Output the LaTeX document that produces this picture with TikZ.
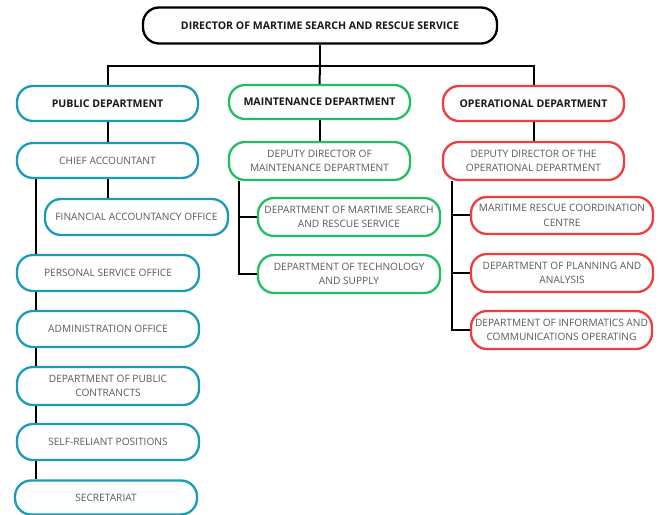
\documentclass[tikz,border=0pt]{standalone}
\usepackage{fontspec}
\setmainfont{Open Sans}
\usetikzlibrary{positioning}
\definecolor{pubc}{HTML}{1B9BB8}
\definecolor{mntc}{HTML}{1FBF62}
\definecolor{oprc}{HTML}{F23B3B}
\definecolor{txtc}{HTML}{5A5A5A}
\tikzset{
  box/.style={rectangle, rounded corners=16bp, line width=2.3bp, fill=white,
    minimum width=181bp, minimum height=36bp, align=center, inner sep=0.5bp,
    font=\fontsize{10.2}{14.5}\selectfont, text=txtc},
  head/.style={box, font=\fontsize{10.6}{12}\selectfont\bfseries, text=black!90},
  conn/.style={line width=2bp, black},
}
\begin{document}
\begin{tikzpicture}[x=1bp, y=-1bp]
\useasboundingbox (0,0) rectangle (659,515);
% top
\node[head, draw=black, minimum width=354bp] (top) at (320,25.5) {DIRECTOR OF MARTIME SEARCH AND RESCUE SERVICE};
% level 1
\node[head, draw=pubc, minimum height=35bp] (pub) at (107.5,103.5) {PUBLIC DEPARTMENT};
\node[head, draw=mntc, minimum height=34bp] (mnt) at (319.5,102) {MAINTENANCE DEPARTMENT};
\node[head, draw=oprc, minimum height=35bp] (opr) at (533.5,103.5) {OPERATIONAL DEPARTMENT};
% public
\node[box, draw=pubc, minimum height=35bp] (chief) at (107.5,160.5) {CHIEF ACCOUNTANT};
\node[box, draw=pubc, minimum width=183bp] (fao) at (136.5,217) {FINANCIAL ACCOUNTANCY OFFICE};
\node[box, draw=pubc, minimum width=182bp] (pso) at (108,273) {PERSONAL SERVICE OFFICE};
\node[box, draw=pubc, minimum width=182bp] (adm) at (108,329) {ADMINISTRATION OFFICE};
\node[box, draw=pubc, minimum width=182bp, minimum height=38bp] (dpc) at (108,386) {DEPARTMENT OF PUBLIC\\CONTRANCTS};
\node[box, draw=pubc, minimum width=182bp] (srp) at (108,442) {SELF-RELIANT POSITIONS};
\node[box, draw=pubc, minimum width=182bp, minimum height=34bp] (sec) at (106,497.5) {SECRETARIAT};
% maintenance
\node[box, draw=mntc, minimum height=38bp] (ddm) at (319.5,161) {DEPUTY DIRECTOR OF\\MAINTENANCE DEPARTMENT};
\node[box, draw=mntc, minimum width=182bp, minimum height=38bp] (dms) at (349,217) {DEPARTMENT OF MARTIME SEARCH\\AND RESCUE SERVICE};
\node[box, draw=mntc, minimum width=182bp, minimum height=38bp] (dts) at (349,274) {DEPARTMENT OF TECHNOLOGY\\AND SUPPLY};
% operational
\node[box, draw=oprc, minimum height=38bp] (ddo) at (533.5,161) {DEPUTY DIRECTOR OF THE\\OPERATIONAL DEPARTMENT};
\node[box, draw=oprc, minimum width=182bp, minimum height=37bp] (mrc) at (562,215.5) {MARITIME RESCUE COORDINATION\\CENTRE};
\node[box, draw=oprc, minimum width=182bp, minimum height=38bp] (dpa) at (562,273) {DEPARTMENT OF PLANNING AND\\ANALYSIS};
\node[box, draw=oprc, minimum height=38bp] (dic) at (561.5,330) {DEPARTMENT OF INFORMATICS AND\\COMMUNICATIONS OPERATING};
% spine coordinates
\coordinate (bar) at (320,66);
\coordinate (ps) at (36,0);
\coordinate (ms) at (239,0);
\coordinate (os) at (452,0);
% connectors
\draw[conn] (top.south) -- (bar);
\draw[conn] (pub.north) |- (bar) -| (opr.north);
\draw[conn] (bar) -- (mnt.north);
\draw[conn] (pub.south) -- (chief.north);
\draw[conn] (mnt.south) -- (ddm.north);
\draw[conn] (opr.south) -- (ddo.north);
\draw[conn] (chief.south) -- (chief.south |- fao.north);
\draw[conn] (chief.south -| ps) -- (pso.north -| ps);
\draw[conn] (pso.south -| ps) -- (adm.north -| ps);
\draw[conn] (adm.south -| ps) -- (dpc.north -| ps);
\draw[conn] (dpc.south -| ps) -- (srp.north -| ps);
\draw[conn] (srp.south -| ps) -- (sec.north -| ps);
\draw[conn] (ddm.south -| ms) |- (dts.west);
\draw[conn] (ms |- dms.west) -- (dms.west);
\draw[conn] (ddo.south -| os) |- (dic.west);
\draw[conn] (os |- mrc.west) -- (mrc.west);
\draw[conn] (os |- dpa.west) -- (dpa.west);
\end{tikzpicture}
\end{document}
